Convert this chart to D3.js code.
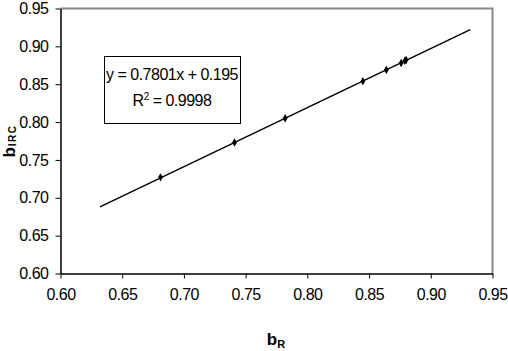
<!DOCTYPE html>
<html>
<head>
<meta charset="utf-8">
<script src="https://cdn.jsdelivr.net/npm/d3@7"></script>
<style>
  body { margin: 0; background: #fff; }
  svg { display: block; font-family: "Liberation Sans", Arial, sans-serif; }
</style>
</head>
<body>
<svg id="chart" width="508" height="351"></svg>
<script>
// measured points
const bR = [0.681, 0.741, 0.782, 0.845, 0.864, 0.876, 0.879, 0.880];
const bIRC = [0.727, 0.773, 0.805, 0.854, 0.869, 0.878, 0.881, 0.882];
const xTicks = [0.60, 0.65, 0.70, 0.75, 0.80, 0.85, 0.90, 0.95];
const yTicks = [0.60, 0.65, 0.70, 0.75, 0.80, 0.85, 0.90, 0.95];
// linear trend line
const slope = 0.7801, intercept = 0.195;
const trendX = [0.632, 0.932];
const eqLines = ["y = 0.7801x + 0.195", "0.9998"];

const svg = d3.select("#chart");
const mLeft = 60.5, mRight = 492.5, mTop = 8.5, mBottom = 273.5;

const x = d3.scaleLinear().domain([0.60, 0.95]).range([mLeft, mRight]);
const y = d3.scaleLinear().domain([0.60, 0.95]).range([mBottom, mTop]);

// plot area border (top & right in grey)
svg.append("path")
  .attr("d", `M${mLeft},${mTop}H${mRight}V${mBottom}`)
  .attr("fill", "none")
  .attr("stroke", "#888")
  .attr("stroke-width", 2);

// axes
const xAxis = svg.append("g")
  .attr("transform", `translate(0,${mBottom})`)
  .call(d3.axisBottom(x).tickValues(xTicks).tickFormat(d3.format(".2f")).tickSizeOuter(0).tickSizeInner(5).tickPadding(10));
const yAxis = svg.append("g")
  .attr("transform", `translate(${mLeft},0)`)
  .call(d3.axisLeft(y).tickValues(yTicks).tickFormat(d3.format(".2f")).tickSizeOuter(0).tickSizeInner(5).tickPadding(7));

[xAxis, yAxis].forEach(a => {
  a.select(".domain").attr("stroke", "#000").attr("stroke-width", 1.5);
  a.selectAll(".tick line").attr("stroke", "#000");
  a.selectAll("text")
    .attr("fill", "#000")
    .style("font-size", "16px")
    .style("letter-spacing", "-0.5px")
    .style("font-family", "'Liberation Sans', Arial, sans-serif");
});

// trend line
svg.append("line")
  .attr("x1", x(trendX[0])).attr("y1", y(slope * trendX[0] + intercept))
  .attr("x2", x(trendX[1])).attr("y2", y(slope * trendX[1] + intercept))
  .attr("stroke", "#000")
  .attr("stroke-width", 1.5);

// markers
svg.selectAll(".pt")
  .data(bR.map((d, i) => [d, bIRC[i]]))
  .enter()
  .append("path")
  .attr("class", "pt")
  .attr("d", d3.symbol(d3.symbolDiamond, 20))
  .attr("transform", d => `translate(${x(d[0])},${y(d[1])})`)
  .attr("fill", "#000");

// equation box
svg.append("rect")
  .attr("x", 104.5).attr("y", 56.5)
  .attr("width", 136).attr("height", 67)
  .attr("fill", "#fff")
  .attr("stroke", "#000")
  .attr("stroke-width", 1);

svg.append("text")
  .attr("x", 172).attr("y", 80)
  .attr("text-anchor", "middle")
  .style("font-size", "16px")
  .style("letter-spacing", "-0.5px")
  .text(eqLines[0]);

const r2 = svg.append("text")
  .attr("x", 172).attr("y", 106)
  .attr("text-anchor", "middle")
  .style("font-size", "16px")
  .style("letter-spacing", "-0.5px");
r2.append("tspan").text("R");
r2.append("tspan").attr("dy", -6).style("font-size", "10px").text("2");
r2.append("tspan").attr("dy", 6).text(" = " + eqLines[1]);

// axis titles
const xt = svg.append("text")
  .attr("x", 276).attr("y", 345)
  .attr("text-anchor", "middle")
  .style("font-size", "17px")
  .style("font-weight", "bold");
xt.append("tspan").text("b");
xt.append("tspan").attr("dy", 3).style("font-size", "11px").text("R");

const yt = svg.append("text")
  .attr("transform", "translate(15,141) rotate(-90)")
  .attr("text-anchor", "middle")
  .style("font-size", "17px")
  .style("font-weight", "bold");
yt.append("tspan").text("b");
yt.append("tspan").attr("dy", 0.5).attr("dx", 1).style("font-size", "10px").style("letter-spacing", "1.5px").text("IRC");
</script>
</body>
</html>
